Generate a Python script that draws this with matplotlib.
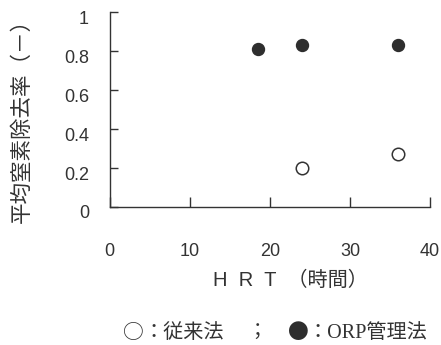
import matplotlib
matplotlib.use("Agg")
import matplotlib.pyplot as plt
import matplotlib.transforms as mtransforms

# 平均窒素除去率 vs HRT
hrt_conv = [24, 36]
rate_conv = [0.20, 0.27]
hrt_orp = [18.5, 24, 36]
rate_orp = [0.81, 0.83, 0.83]

xticks = [0, 10, 20, 30, 40]
yticks = [0, 0.2, 0.4, 0.6, 0.8, 1]
ytick_labels = ["0", "0.2", "0.4", "0.6", "0.8", "1"]

ink = "#333333"
sans = ["Liberation Sans", "Noto Sans CJK JP"]
serif = ["Liberation Serif", "Noto Sans CJK JP"]
cjk = ["Noto Sans CJK JP"]

W, H = 441, 345
fig = plt.figure(figsize=(W / 100, H / 100), dpi=100)
ax = fig.add_axes([0.249, 0.40, 0.726, 0.565])

ax.plot(hrt_orp, rate_orp, "o", ms=8.6, color="#2e2e2e", mec="#2e2e2e")
ax.plot(hrt_conv, rate_conv, "o", ms=9, mfc="white", mec=ink, mew=1.1)

ax.set_xlim(0, 40)
ax.set_ylim(0, 1)
ax.set_xticks(xticks)
ax.set_yticks(yticks)
ax.set_yticklabels(ytick_labels)

for s in ["top", "right"]:
    ax.spines[s].set_visible(False)
for s in ["left", "bottom"]:
    ax.spines[s].set_color(ink)
    ax.spines[s].set_linewidth(1.0)

ax.tick_params(axis="y", direction="in", length=6, width=1.0, color=ink,
               pad=15, labelsize=13, labelcolor=ink)
ax.tick_params(axis="x", direction="in", length=7, width=1.0, color=ink,
               pad=26, labelsize=13, labelcolor=ink)
for lab in ax.get_xticklabels() + ax.get_yticklabels():
    lab.set_family(sans)

# y labels sit a little low in the original
off = mtransforms.ScaledTranslation(0, -5 / 100, fig.dpi_scale_trans)
for lab in ax.get_yticklabels():
    lab.set_transform(lab.get_transform() + off)

fig.text(0.05, 0.664, "平均窒素除去率（－）", rotation=90, ha="center", va="center",
         fontsize=15.5, color=ink, family=cjk)
fig.text(0.659, 0.188, "H  R  T  （時間）", ha="center", va="center",
         fontsize=14.5, color=ink, family=sans)

# legend line under the chart, in pieces
ly = 1 - 333 / H
fig.text(133 / W, ly, "○", ha="center", va="center", fontsize=15, color=ink, family=cjk)
fig.text(143 / W, ly, "：従来法", ha="left", va="center", fontsize=14.5, color=ink, family=serif)
fig.text(257 / W, ly, "；", ha="center", va="center", fontsize=14, color=ink, family=serif)
fig.text(298 / W, ly, "●", ha="center", va="center", fontsize=15, color="#2e2e2e", family=cjk)
fig.text(307 / W, ly, "：ORP管理法", ha="left", va="center", fontsize=14.5, color=ink, family=serif)

fig.savefig("out.png", dpi=100)
